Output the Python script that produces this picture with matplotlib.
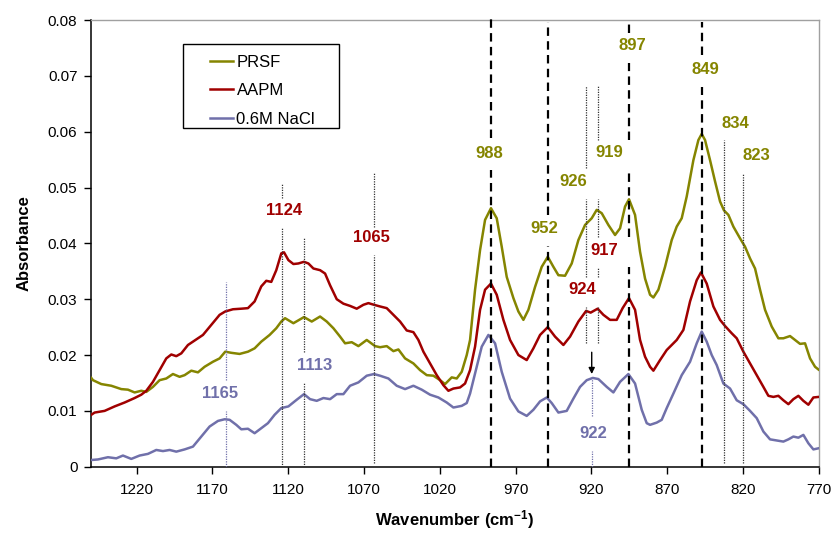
import numpy as np
import matplotlib
matplotlib.use("Agg")
import matplotlib.pyplot as plt
from matplotlib.patches import Rectangle

plt.rcParams['font.family'] = ['Liberation Sans', 'DejaVu Sans']
plt.rcParams['mathtext.fontset'] = 'custom'
plt.rcParams['mathtext.bf'] = 'Liberation Sans:bold'
plt.rcParams['mathtext.rm'] = 'Liberation Sans'
plt.rcParams['mathtext.default'] = 'bf'

# absorbance values below are in units of 1e-3
SCALE = 1e-3

prsf_x = [1250, 1248.9, 1243.4, 1236.8, 1230.2, 1225.8, 1221.4, 1217.0, 1213.7, 1209.3,
          1204.9, 1200.5, 1196.1, 1191.7, 1188.4, 1184.0, 1179.6, 1175.2, 1169.7, 1165.3,
          1161.6, 1157.6, 1152.1, 1146.6, 1142.2, 1137.8, 1132.3, 1127.9, 1124.6,
          1122.1, 1116.6, 1109.6, 1104.5, 1099.0, 1094.6, 1090.2, 1085.8, 1082.5, 1078.1,
          1073.7, 1068.2, 1062.7, 1059.4, 1055.0, 1050.6, 1047.3, 1042.9, 1037.4, 1033.0,
          1028.6, 1024.2, 1019.8, 1016.5, 1012.1, 1008.8, 1005.5, 1002.2,
          1000.0, 996.7, 993.4, 990.1, 986.2, 982.4, 979.1, 975.8, 971.4, 968.1,
          964.8, 961.5, 957.1, 952.7, 948.7, 945.0, 941.7, 937.3, 932.9, 928.5,
          924.1, 919.7, 916.4, 913.1, 908.7, 904.3, 901.0, 897.7, 895.1, 891.1,
          887.8, 884.5, 881.2,
          879.0, 875.7, 871.3, 866.9, 863.6, 860.3, 857.0, 852.6, 849.3, 847.1,
          844.9, 841.6, 838.3, 835.0, 832.4, 829.5, 826.2, 821.8, 818.5, 815.2,
          811.9, 808.6, 805.3, 800.9, 796.5, 793.2, 788.8, 785.5, 782.2, 778.9,
          775.6, 772.3, 770.0]
prsf_y = [15.9, 15.5, 14.8, 14.5, 13.9, 13.8, 13.3, 13.6, 13.4, 14.3,
          15.5, 15.8, 16.6, 16.1, 16.4, 17.2, 16.9, 17.9, 18.8, 19.4,
          20.6, 20.4, 20.2, 20.6, 21.2, 22.4, 23.6, 24.8, 26.0,
          26.6, 25.7, 26.8, 26.0, 26.9, 26.0, 24.8, 23.3, 22.1, 22.3,
          21.6, 22.7, 21.6, 21.4, 21.6, 20.7, 21.0, 19.4, 18.5, 17.3,
          16.4, 16.3, 15.5, 14.8, 16.0, 15.8, 17.0, 20.0,
          22.7, 31.7, 38.8, 44.2, 46.3, 44.5, 39.4, 34.0, 30.2, 27.8,
          26.3, 28.1, 32.2, 35.8, 37.6, 35.8, 34.3, 34.2, 36.4, 40.6,
          43.3, 44.5, 46.0, 45.4, 43.3, 41.5, 42.7, 46.6, 47.9, 45.1,
          38.5, 33.7, 30.8,
          30.3, 31.7, 35.8, 40.6, 43.0, 44.5, 48.4, 54.9, 58.5, 59.6,
          58.5, 54.9, 51.1, 47.5, 45.9, 45.1, 43.0, 40.9, 39.4, 37.3,
          35.5, 31.7, 28.1, 25.1, 23.0, 23.0, 23.4, 22.7, 22.0, 22.1,
          19.4, 17.9, 17.4]

aapm_x = [1250, 1247.8, 1241.2, 1234.6, 1228.0, 1221.4, 1217.0, 1213.7, 1209.3, 1204.9,
          1200.5, 1197.2, 1193.9, 1190.6, 1186.2, 1181.8, 1176.3, 1170.8, 1165.3, 1161.6,
          1156.5, 1151.0, 1146.6, 1142.2, 1137.8, 1134.5, 1131.2, 1127.9, 1124.6, 1122.8,
          1119.9, 1116.6, 1113.3, 1109.6, 1106.7, 1103.4, 1099.0, 1095.7, 1092.4, 1088.0,
          1083.6, 1079.2, 1074.8, 1070.4, 1067.1, 1063.4, 1059.4, 1055.0, 1050.6, 1046.2,
          1041.8, 1037.4, 1034.1, 1030.8, 1026.4, 1022.0, 1017.6, 1014.3, 1011.0, 1006.6,
          1003.3,
          1000.0, 996.7, 993.4, 990.1, 986.2, 982.4, 978.0, 973.6, 968.1, 962.6,
          958.2, 953.8, 948.7, 943.9, 938.4, 934.0, 928.5, 923.4, 920.4, 915.8,
          912.0, 907.6, 903.2, 899.3, 895.1, 891.1, 887.8, 884.5, 881.2,
          879.0, 874.6, 870.2, 863.6, 859.2, 854.8, 850.4, 847.6, 843.8, 839.4,
          835.0, 831.7, 827.3, 824.0, 819.6, 815.2, 810.8, 806.4, 803.1, 799.8,
          796.5, 793.2, 789.9, 786.6, 783.3, 780.0, 776.7, 773.4, 770.0]
aapm_y = [9.3, 9.7, 10.0, 10.8, 11.5, 12.3, 12.9, 13.6, 15.2, 17.3,
          19.4, 20.1, 19.8, 20.3, 21.8, 22.6, 23.6, 25.4, 27.2, 27.8,
          28.2, 28.3, 28.4, 29.6, 32.3, 33.3, 33.1, 35.2, 38.2, 38.4,
          37.0, 36.3, 36.4, 36.7, 36.4, 35.5, 35.2, 34.6, 32.5, 30.0,
          29.2, 28.8, 28.3, 29.0, 29.3, 29.0, 28.7, 28.4, 27.2, 26.0,
          24.4, 24.1, 22.7, 20.6, 18.5, 16.4, 14.6, 13.6, 14.0, 14.2,
          14.9,
          17.3, 21.5, 28.1, 31.7, 32.8, 30.8, 26.3, 22.7, 20.0, 19.1,
          21.2, 23.6, 25.0, 23.3, 21.8, 23.3, 26.0, 27.9, 27.6, 28.3,
          27.2, 26.3, 26.3, 28.4, 30.2, 28.1, 22.7, 19.7, 17.9,
          17.2, 19.1, 20.9, 22.7, 24.5, 29.6, 33.4, 34.8, 32.8, 28.7,
          26.3, 25.2, 23.9, 23.0, 20.6, 18.5, 16.4, 14.3, 12.7, 12.5,
          12.7, 11.9, 11.2, 12.1, 12.7, 11.8, 11.1, 12.4, 12.5]

nacl_x = [1250, 1245.6, 1239.0, 1233.5, 1229.1, 1223.6, 1218.1, 1212.6, 1207.1, 1202.7,
          1198.3, 1193.9, 1188.4, 1182.9, 1177.4, 1171.9, 1166.4, 1162.0, 1158.7, 1154.3,
          1151.0, 1146.6, 1142.2, 1137.8, 1133.4, 1129.0, 1124.6,
          1119.9, 1114.4, 1109.6, 1105.6, 1101.2, 1096.8, 1092.4, 1088.0, 1083.6, 1079.2,
          1073.7, 1068.2, 1063.4, 1059.4, 1053.9, 1048.4, 1042.9, 1037.4, 1031.9, 1026.4,
          1020.9, 1015.4, 1011.0, 1005.5, 1002.2,
          1000.0, 996.7, 992.3, 987.9, 983.5, 979.1, 973.6, 968.1, 962.6, 958.2,
          953.8, 949.4, 946.1, 941.7, 936.2, 931.8, 927.4, 923.0, 919.0, 915.3,
          909.8, 905.4, 901.0, 895.5, 891.1, 886.7, 883.4,
          881.2, 876.8, 873.5, 870.2, 865.8, 860.3, 854.8, 850.4, 847.1, 843.8,
          840.5, 837.2, 832.8, 828.4, 824.0, 819.6, 815.2, 810.8, 806.4, 802.0,
          797.6, 793.2, 789.9, 786.6, 783.3, 780.0, 776.7, 773.4, 770.0]
nacl_y = [1.2, 1.3, 1.7, 1.5, 2.0, 1.4, 2.0, 2.3, 3.0, 2.8,
          3.0, 2.7, 3.1, 3.6, 5.4, 7.2, 8.2, 8.5, 8.4, 7.5,
          6.7, 6.8, 6.0, 6.9, 7.8, 9.3, 10.5,
          10.8, 12.0, 13.0, 12.1, 11.8, 12.3, 12.1, 13.0, 13.0, 14.5,
          15.1, 16.3, 16.6, 16.3, 15.8, 14.5, 13.9, 14.5, 13.8, 12.9,
          12.4, 11.5, 10.6, 10.9, 11.4,
          13.1, 16.7, 21.5, 23.6, 22.1, 17.0, 12.2, 9.9, 9.1, 10.2,
          11.7, 12.4, 11.4, 9.7, 10.0, 12.2, 14.3, 15.5, 15.9, 15.7,
          14.3, 13.3, 15.2, 16.6, 14.9, 10.2, 7.8,
          7.5, 7.9, 8.4, 10.5, 13.1, 16.4, 18.8, 22.1, 24.2, 22.4,
          20.0, 18.2, 14.9, 14.0, 11.9, 11.2, 10.0, 8.7, 6.3, 4.9,
          4.7, 4.5, 4.9, 5.4, 5.2, 5.7, 4.2, 3.1, 3.3]

series_names = ['PRSF', 'AAPM', '0.6M NaCl']
OLIVE = '#858500'
RED = '#a00000'
BLUE = '#7070aa'

# band marker lines: x position, list of (ymin, ymax) pieces
dashed_lines = [
    (986.2, [(0, 0.0531), (0.0589, 0.0806)]),
    (948.7, [(0, 0.0395), (0.0450, 0.0797)]),
    (895.0, [(0, 0.0358), (0.0411, 0.0526), (0.0585, 0.0723), (0.0777, 0.0797)]),
    (847.1, [(0, 0.0680), (0.0737, 0.0797)]),
]
dotted_lines = [
    (1161.3, [(0, 0.0099), (0.0155, 0.0330)], BLUE),
    (1124.3, [(0, 0.0428), (0.0481, 0.0506)], '#333333'),
    (1109.6, [(0, 0.0152), (0.0206, 0.0409)], '#333333'),
    (1063.4, [(0.0007, 0.0379), (0.0430, 0.0528)], '#333333'),
    (923.5, [(0.0222, 0.0286), (0.0340, 0.0479), (0.0535, 0.0682)], '#333333'),
    (915.8, [(0.0222, 0.0286), (0.0340, 0.0358), (0.0411, 0.0479), (0.0585, 0.0682)], '#333333'),
    (919.7, [(0, 0.0029), (0.0090, 0.0159)], BLUE),
    (832.4, [(0.0007, 0.0585)], '#333333'),
    (820.0, [(0.0007, 0.0526)], '#333333'),
]

# peak labels: text, x, y, colour
peak_labels = [
    ('988', 987.3, 0.0561, OLIVE), ('952', 951.0, 0.0426, OLIVE),
    ('926', 932.2, 0.0510, OLIVE), ('919', 908.1, 0.0562, OLIVE),
    ('897', 892.6, 0.0755, OLIVE), ('849', 844.9, 0.0712, OLIVE),
    ('834', 824.7, 0.0614, OLIVE), ('823', 811.3, 0.0558, OLIVE),
    ('917', 911.4, 0.0388, RED), ('924', 925.9, 0.0317, RED),
    ('1124', 1122.6, 0.0458, RED), ('1065', 1065.4, 0.0410, RED),
    ('1165', 1165.1, 0.0131, BLUE), ('1113', 1102.3, 0.0182, BLUE),
    ('922', 918.6, 0.0060, BLUE),
]

x_ticks = [1220, 1170, 1120, 1070, 1020, 970, 920, 870, 820, 770]
y_ticks = [0, 0.01, 0.02, 0.03, 0.04, 0.05, 0.06, 0.07, 0.08]

fig = plt.figure(figsize=(8.36, 5.34), dpi=100)
ax = fig.add_axes([0.1092, 0.126, 0.8699, 0.8365])

ax.plot(prsf_x, np.array(prsf_y) * SCALE, color=OLIVE, lw=1.8, label=series_names[0],
        zorder=3, solid_joinstyle='round')
ax.plot(aapm_x, np.array(aapm_y) * SCALE, color=RED, lw=1.8, label=series_names[1],
        zorder=3, solid_joinstyle='round')
ax.plot(nacl_x, np.array(nacl_y) * SCALE, color=BLUE, lw=1.8, label=series_names[2],
        zorder=3, solid_joinstyle='round')

for xv, pieces in dashed_lines:
    for y0, y1 in pieces:
        ax.plot([xv, xv], [y0, y1], color='black', lw=1.6, dashes=(3.8, 2.4),
                zorder=4, clip_on=False)
for xv, pieces, c in dotted_lines:
    for y0, y1 in pieces:
        ax.plot([xv, xv], [y0, y1], color=c, lw=0.9, ls=(0, (1, 1)), zorder=4)

for txt, xv, yv, c in peak_labels:
    ax.text(xv, yv, txt, color=c, fontsize=12, fontweight='bold',
            ha='center', va='center', zorder=5)

# arrow pointing at the 922 band
ax.annotate('', xy=(919.7, 0.0166), xytext=(919.7, 0.0205),
            arrowprops=dict(arrowstyle='-|>', color='black', lw=1.0,
                            mutation_scale=9, shrinkA=0, shrinkB=0), zorder=5)

ax.set_xlim(1250, 770)
ax.set_ylim(0, 0.08)
ax.set_xticks(x_ticks)
ax.set_xticklabels([str(t) for t in x_ticks])
ax.set_yticks(y_ticks)
ax.set_yticklabels(['0'] + ['%.2f' % t for t in y_ticks[1:]])
ax.tick_params(axis='both', direction='out', length=5, width=1, labelsize=11, colors='black')
ax.tick_params(axis='x', pad=7)
ax.tick_params(axis='y', pad=5)

for s in ['left', 'bottom']:
    ax.spines[s].set_color('black')
    ax.spines[s].set_linewidth(1.1)
for s in ['top', 'right']:
    ax.spines[s].set_color('#a0a0a0')
    ax.spines[s].set_linewidth(1.0)

ax.set_ylabel('Absorbance', fontsize=12, fontweight='bold', va='center')
ax.yaxis.set_label_coords(-0.092, 0.5)
ax.set_xlabel('Wavenumber (cm$^{-1}$)', fontsize=12, fontweight='bold', va='center')
ax.xaxis.set_label_coords(0.5, -0.119)

# legend box drawn by hand so the padding matches
ax.add_patch(Rectangle((0.1257, 0.7589), 0.2145, 0.1867, transform=ax.transAxes,
                       facecolor='white', edgecolor='black', lw=1.0, zorder=6))
leg = ax.legend(loc='upper left', bbox_to_anchor=(0.163, 0.922), frameon=False,
                fontsize=12, borderpad=0, borderaxespad=0, handlelength=1.4,
                handletextpad=0.2, labelspacing=0.8)
leg.set_zorder(7)

fig.savefig('out.png', dpi=100)
